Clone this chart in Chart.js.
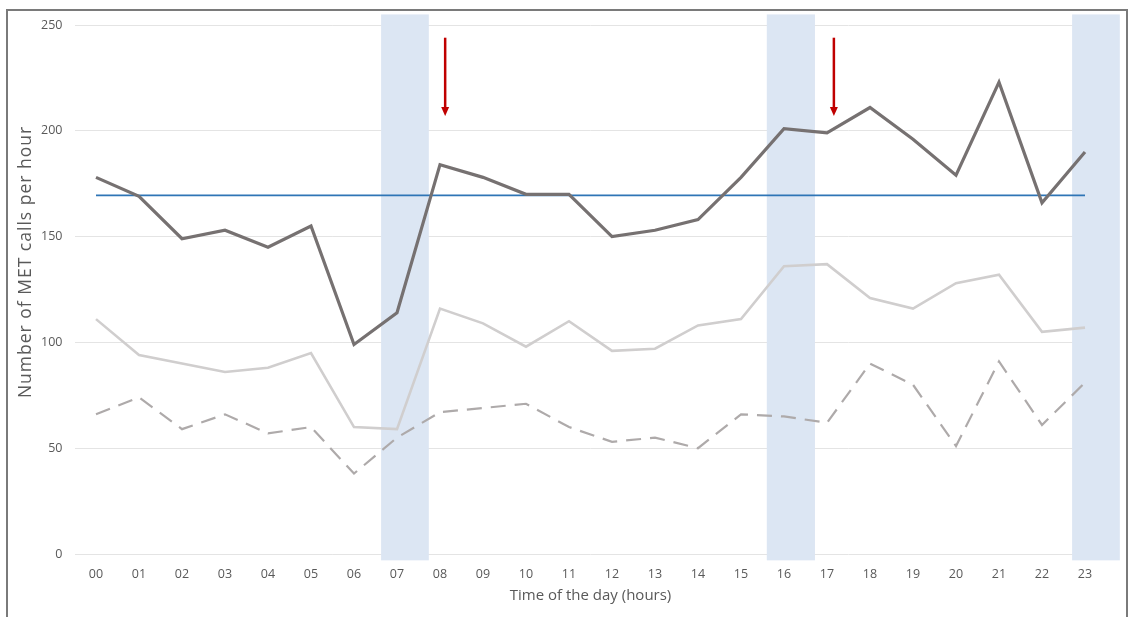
<!DOCTYPE html>
<html>
<head>
<meta charset="utf-8">
<script src="https://cdn.jsdelivr.net/npm/chart.js@4.4.1/dist/chart.umd.min.js"></script>
<style>
    html, body { margin: 0; padding: 0; background: #ffffff; overflow: hidden; }
    #wrap { position: relative; width: 1133px; height: 617px; }
    #frame {
        position: absolute; left: 6px; top: 9px; width: 1122px; height: 700px;
        border: 2px solid #7a7a7a; box-sizing: border-box; pointer-events: none;
    }
    canvas { position: absolute; left: 0; top: 0; }
</style>
</head>
<body>
<div id="wrap">
    <canvas id="callsChart" width="1133" height="617"></canvas>
    <div id="frame"></div>
</div>
<script>
// ========== DATA ==========
const hourLabels = ['00', '01', '02', '03', '04', '05', '06', '07', '08', '09', '10', '11',
                    '12', '13', '14', '15', '16', '17', '18', '19', '20', '21', '22', '23'];

const totalCalls = [178, 169, 149, 153, 145, 155, 99, 114, 184, 178, 170, 170,
                    150, 153, 158, 178, 201, 199, 211, 196, 179, 223, 166, 190];

const lightCalls = [111, 94, 90, 86, 88, 95, 60, 59, 116, 109, 98, 110,
                    96, 97, 108, 111, 136, 137, 121, 116, 128, 132, 105, 107];

const dashedCalls = [66, 74, 59, 66, 57, 60, 38, 55, 67, 69, 71, 60,
                     53, 55, 50, 66, 65, 62, 90, 80, 51, 91, 61, 81];

const yTicks = [0, 50, 100, 150, 200, 250];

// shift-change bands, in hour units on the category axis
const bandStart = [6.63, 15.6, 22.7];
const bandEnd = [7.74, 16.72, 23.81];
const bandTop = 255;
const bandBottom = -3;

// red arrows
const arrowHour = [8.12, 17.16];
const arrowFrom = 244;
const arrowTo = 207;

const yTitle = 'Number of MET calls per hour';
const xTitle = 'Time of the day (hours)';

const meanCalls = totalCalls.reduce((s, v) => s + v, 0) / totalCalls.length;

// ========== PLUGINS ==========
const bandsPlugin = {
    id: 'bands',
    beforeDatasetsDraw(chart) {
        const { ctx, scales: { x, y } } = chart;
        ctx.save();
        ctx.fillStyle = '#dce6f3';
        bandStart.forEach((s, i) => {
            const x0 = x.getPixelForValue(s);
            const x1 = x.getPixelForValue(bandEnd[i]);
            const y0 = y.getPixelForValue(bandTop);
            const y1 = y.getPixelForValue(bandBottom);
            ctx.fillRect(x0, y0, x1 - x0, y1 - y0);
        });
        ctx.restore();
    }
};

const arrowsPlugin = {
    id: 'arrows',
    afterDatasetsDraw(chart) {
        const { ctx, scales: { x, y } } = chart;
        ctx.save();
        ctx.strokeStyle = '#c00000';
        ctx.fillStyle = '#c00000';
        ctx.lineWidth = 2.5;
        arrowHour.forEach(h => {
            const px = x.getPixelForValue(h);
            const top = y.getPixelForValue(arrowFrom);
            const tip = y.getPixelForValue(arrowTo);
            ctx.beginPath();
            ctx.moveTo(px, top);
            ctx.lineTo(px, tip - 8);
            ctx.stroke();
            ctx.beginPath();
            ctx.moveTo(px - 4, tip - 9);
            ctx.lineTo(px + 4, tip - 9);
            ctx.lineTo(px, tip);
            ctx.closePath();
            ctx.fill();
        });
        ctx.restore();
    }
};

const titlesPlugin = {
    id: 'titles',
    afterDraw(chart) {
        const { ctx, chartArea } = chart;
        ctx.save();
        ctx.fillStyle = '#595959';
        ctx.font = '15px "Open Sans"';
        ctx.textAlign = 'center';
        ctx.textBaseline = 'middle';
        ctx.fillText(xTitle, (chartArea.left + chartArea.right) / 2, 596);
        ctx.font = '17.5px "Open Sans"';
        ctx.letterSpacing = '1px';
        ctx.translate(26, 262);
        ctx.rotate(-Math.PI / 2);
        ctx.fillText(yTitle, 0, 0);
        ctx.restore();
    }
};

// ========== CHART ==========
function initChart() {
    const ctx = document.getElementById('callsChart').getContext('2d');

    new Chart(ctx, {
        type: 'line',
        data: {
            labels: hourLabels,
            datasets: [
                {
                    label: 'Total',
                    data: totalCalls,
                    borderColor: '#767171',
                    borderWidth: 3.2
                },
                {
                    label: 'Mean',
                    data: hourLabels.map(() => meanCalls),
                    borderColor: '#2e75b6',
                    borderWidth: 1.6
                },
                {
                    label: 'Group A',
                    data: lightCalls,
                    borderColor: '#d0cece',
                    borderWidth: 2.6
                },
                {
                    label: 'Group B',
                    data: dashedCalls,
                    borderColor: '#aeaaaa',
                    borderWidth: 2.2,
                    borderDash: [15, 9]
                }
            ]
        },
        options: {
            responsive: false,
            animation: false,
            events: [],
            layout: { padding: { top: 25, right: 26.5, bottom: 0, left: 10 } },
            elements: {
                line: { tension: 0, fill: false, borderCapStyle: 'butt', borderJoinStyle: 'miter' },
                point: { radius: 0 }
            },
            plugins: {
                legend: { display: false },
                tooltip: { enabled: false }
            },
            scales: {
                x: {
                    offset: true,
                    grid: { display: false, drawTicks: false },
                    border: { display: false },
                    ticks: { color: '#595959', padding: 13, font: { family: 'Open Sans', size: 12.5 } },
                    afterFit: scale => { scale.height = 63; }
                },
                y: {
                    min: 0,
                    max: 250,
                    afterBuildTicks: scale => { scale.ticks = yTicks.map(v => ({ value: v })); },
                    grid: { color: '#e4e4e4', lineWidth: 1, drawTicks: false },
                    border: { display: false },
                    ticks: { color: '#595959', padding: 12, font: { family: 'Open Sans', size: 12.5 } },
                    afterFit: scale => { scale.width = 64.5; }
                }
            }
        },
        plugins: [bandsPlugin, arrowsPlugin, titlesPlugin]
    });
}

initChart();
</script>
</body>
</html>
